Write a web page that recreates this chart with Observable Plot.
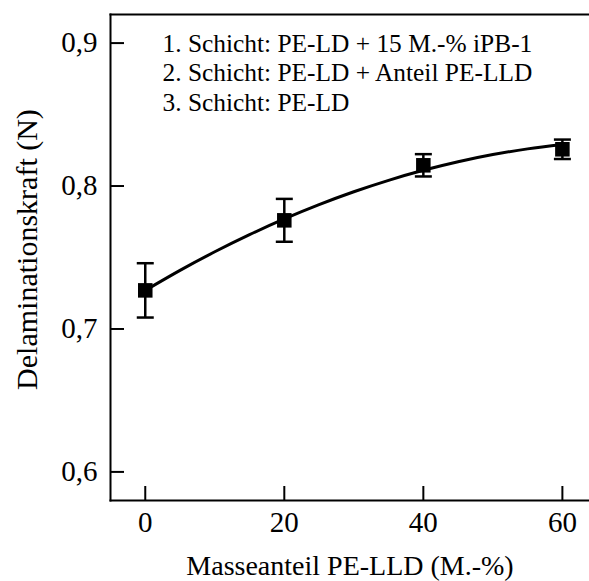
<!DOCTYPE html>
<html><head><meta charset="utf-8">
<script src="https://cdn.jsdelivr.net/npm/d3@7"></script>
<script src="https://cdn.jsdelivr.net/npm/@observablehq/plot@0.6"></script>
<style>
body{margin:0;background:#fff}
#chart svg, #chart svg text {font-family: "Liberation Serif", "DejaVu Serif", serif !important;}
</style>
</head><body><div id="chart"></div>
<script>
// Data
const anteil = [0, 20, 40, 60];
const kraft = [0.727, 0.776, 0.8145, 0.8257];
const fehler = [0.019, 0.015, 0.0078, 0.0068];
// fitted curve as drawn in the reference
const fitX = [0, 5, 10, 15, 20, 25, 30, 35, 40, 45, 50, 55, 60];
const fitY = [0.727, 0.741, 0.754, 0.766, 0.777, 0.787, 0.796, 0.804, 0.811, 0.817, 0.822, 0.826, 0.829];
const xTicks = [0, 20, 40, 60];
const yTicks = [0.6, 0.7, 0.8, 0.9];
const legendLines = [
  "1. Schicht: PE-LD + 15 M.-% iPB-1",
  "2. Schicht: PE-LD + Anteil PE-LLD",
  "3. Schicht: PE-LD"
];
const xTitle = "Masseanteil PE-LLD (M.-%)";
const yTitle = "Delaminationskraft (N)";

const points = anteil.map((x, i) => ({x, y: kraft[i], lo: kraft[i] - fehler[i], hi: kraft[i] + fehler[i]}));
const caps = points.flatMap(p => [{x: p.x, y: p.lo}, {x: p.x, y: p.hi}]);
const fit = fitX.map((x, i) => ({x, y: fitY[i]}));

const capSymbol = {draw(ctx) { ctx.moveTo(-8.5, 0); ctx.lineTo(8.5, 0); }};
const serif = "Liberation Serif";

const chart = Plot.plot({
  width: 589,
  height: 581,
  marginLeft: 110,
  marginRight: 0,
  marginTop: 14,
  marginBottom: 81,
  style: {fontSize: "29px", color: "#000", background: "#fff"},
  x: {domain: [-5, 63.9]},
  y: {domain: [0.58, 0.92]},
  marks: [
    Plot.frame({anchor: "left", strokeWidth: 2}),
    Plot.frame({anchor: "top", strokeWidth: 2}),
    Plot.frame({anchor: "bottom", strokeWidth: 2}),
    Plot.axisX({ticks: xTicks, tickSize: -14, tickPadding: 25, strokeWidth: 2, label: null, fontSize: 29, fontFamily: serif}),
    Plot.axisY({ticks: yTicks, tickSize: -14, tickPadding: 27, strokeWidth: 2, label: null, fontSize: 29, fontFamily: serif,
      tickFormat: d => d.toFixed(1).replace(".", ",")}),
    Plot.line(fit, {x: "x", y: "y", curve: "natural", strokeWidth: 3, stroke: "#000"}),
    Plot.ruleX(points, {x: "x", y1: "lo", y2: "hi", strokeWidth: 2.5, stroke: "#000"}),
    Plot.dot(caps, {x: "x", y: "y", symbol: capSymbol, r: 5, fill: "none", stroke: "#000", strokeWidth: 2.5}),
    Plot.dot(points, {x: "x", y: "y", symbol: "square", r: 8.2, fill: "#000", stroke: "none"}),
    Plot.text([legendLines.join("\n")], {frameAnchor: "top-left", dx: 52, dy: 16, textAnchor: "start",
      lineAnchor: "top", lineHeight: 1.17, fontSize: 25.4, fontFamily: serif, fill: "#000"}),
    Plot.text([xTitle], {frameAnchor: "bottom", dy: 66, lineAnchor: "middle", fontSize: 28, fontFamily: serif, fill: "#000"}),
    Plot.text([yTitle], {frameAnchor: "left", dx: -83, dy: -8, rotate: -90, textAnchor: "middle", lineAnchor: "middle",
      fontSize: 30, fontFamily: serif, fill: "#000"})
  ]
});
document.getElementById("chart").appendChild(chart);
</script>
</body></html>
